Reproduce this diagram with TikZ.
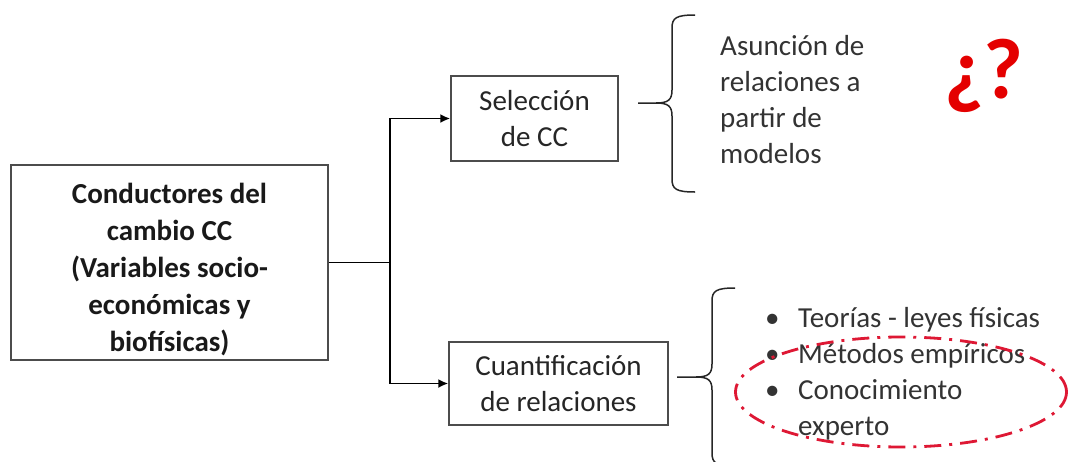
\documentclass[tikz,border=0pt]{standalone}
\usepackage{fontspec}
\setmainfont{Carlito}
\usetikzlibrary{arrows,arrows.meta,shapes}
\definecolor{ellred}{RGB}{222,24,52}
\definecolor{qred}{RGB}{228,0,0}
\tikzstyle{edge} = [draw,line width=1.9pt,-]
\tikzstyle{brc} = [draw,line width=1.5pt,black!85]

\begin{document}
\begin{tikzpicture}[x=1pt,y=-1pt,>={Latex[length=10pt,width=9pt]},
  box/.style={draw=black!70,line width=1.4pt,inner sep=0pt,align=center,text=black!85,
    font=\fontsize{29}{36}\selectfont},
  txt/.style={inner sep=0pt,align=left,text=black!80,font=\fontsize{29}{36}\selectfont}]
  \useasboundingbox (0,0) rectangle (1068,461);

  \node[box,minimum width=317pt,minimum height=195pt,text=black!90,
    font=\fontsize{29}{37}\selectfont\bfseries]
    (1) at (169.5,262.5) {\raisebox{-8pt}[\height][\depth]{\begin{tabular}{@{}c@{}}
      Conductores del\\cambio CC\\(Variables socio-\\económicas y\\biofísicas)\end{tabular}}};
  \node[box,minimum width=167pt,minimum height=85pt] (2) at (534.5,118.5) {Selección\\de CC};
  \node[box,minimum width=219pt,minimum height=83pt] (3) at (558.5,383.5) {Cuantificación\\de relaciones};

  \node[txt,anchor=west] (4) at (720,100) {Asunción de\\relaciones a\\partir de\\modelos};
  \node[txt,anchor=west] (5) at (765,374) {\begin{tabular}{@{}p{33pt}@{}l@{}}
    \textbullet & Teorías - leyes físicas\\
    \textbullet & Métodos empíricos\\
    \textbullet & Conocimiento\\
                & experto
  \end{tabular}};
  \node[inner sep=0pt,text=qred,font=\fontsize{86}{86}\selectfont\bfseries] (6) at (984,76) {¿?};

  % ellipse round the expert knowledge
  \node[ellipse,draw=ellred,line width=2.8pt,minimum width=331pt,minimum height=110pt,
    dash pattern=on 17pt off 8pt on 3pt off 8pt] (7) at (901,392) {};

  % connectors
  \coordinate (j) at (390,262.5);
  \path[edge] (1.east) -- (j);
  \draw[edge,->] (j) |- (2);
  \draw[edge,->] (j) |- (3);

  % braces
  \draw[brc] (638,103) -- (656,103) .. controls (668,103) and (672,100) .. (672,90)
    -- (672,28) .. controls (672,18) and (676,15) .. (695,15);
  \draw[brc] (656,103) .. controls (668,103) and (672,106) .. (672,116)
    -- (672,179) .. controls (672,189) and (676,192) .. (695,192);
  \draw[brc] (677,377) -- (696,377) .. controls (708,377) and (712,374) .. (712,364)
    -- (712,301) .. controls (712,291) and (716,288) .. (735,288);
  \draw[brc] (696,377) .. controls (708,377) and (712,380) .. (712,390)
    -- (712,453) .. controls (712,463) and (716,466) .. (735,466);

\end{tikzpicture}
\end{document}
